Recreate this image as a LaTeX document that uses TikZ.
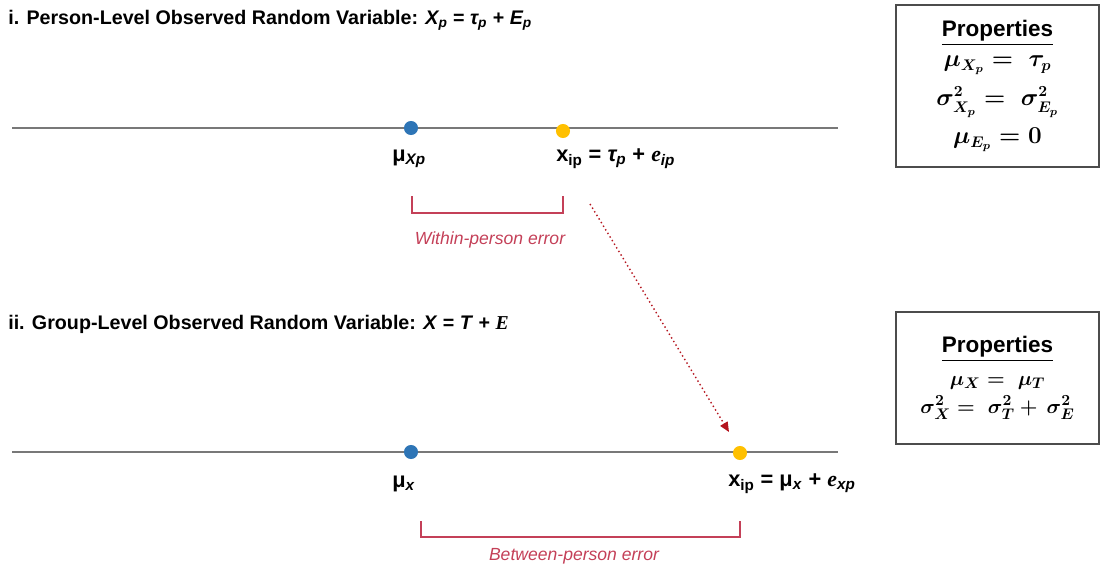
\documentclass[tikz,border=0pt]{standalone}
\usepackage{amsmath}
\usepackage{fontspec}
\setmainfont{Liberation Sans}
\newfontfamily\serifit{Liberation Serif}
\usetikzlibrary{arrows.meta}
\definecolor{dotblue}{RGB}{46,117,182}
\definecolor{dotgold}{RGB}{255,192,0}
\definecolor{errred}{RGB}{196,64,88}
\definecolor{arrred}{RGB}{180,20,30}
\definecolor{axisgray}{RGB}{120,120,120}
\begin{document}
\begin{tikzpicture}[x=0.025cm,y=-0.025cm]
	\tikzset{dot/.style={circle, inner sep=0pt, minimum size=10pt},
		axis/.style={axisgray, line width=1.2pt},
		title/.style={anchor=west, inner sep=0pt, font=\bfseries\fontsize{14}{16}\selectfont},
		lab/.style={anchor=west, inner sep=0pt, font=\bfseries\fontsize{15.5}{17}\selectfont},
		brack/.style={errred, line width=0.9pt},
		errtext/.style={errred, font=\itshape\fontsize{12.5}{14}\selectfont},
		link/.style={arrred, line width=1pt, dotted, -{Triangle[length=7pt,width=6pt]}},
		propbox/.style={draw=black!70, line width=1.2pt, minimum width=5.075cm, align=center, font=\fontsize{16}{24.5}\selectfont\boldmath}}
	\useasboundingbox (0,0) rectangle (1101,567);
	\node[title] (t1) at (8,20) {i. Person-Level Observed Random Variable: \textit{X\textsubscript{p}} = \textit{τ\textsubscript{p}} + \textit{E\textsubscript{p}}};
	\node[title] (t2) at (8,324) {ii. Group-Level Observed Random Variable: \textit{X} = \textit{T} + {\serifit\itshape E}};
	\coordinate (a1) at (12,128);
	\coordinate (b1) at (838,128);
	\coordinate (a2) at (12,452);
	\coordinate (b2) at (838,452);
	\draw[axis] (a1) -- (b1);
	\draw[axis] (a2) -- (b2);
	\node[dot, fill=dotblue] (m1) at (411,128) {};
	\node[dot, fill=dotgold] (x1) at (563,131) {};
	\node[dot, fill=dotblue] (m2) at (411,452) {};
	\node[dot, fill=dotgold] (x2) at (740,453) {};
	\node[lab] (lm1) at (392,159) {μ\textsubscript{\textit{Xp}}};
	\node[lab] (lx1) at (556,159) {x\textsubscript{ip} = \textit{τ\textsubscript{p}} + {\serifit\itshape e}\textsubscript{\textit{ip}}};
	\node[lab] (lm2) at (392,484) {μ\textsubscript{\textit{x}}};
	\node[lab] (lx2) at (728,484) {x\textsubscript{ip} = μ\textsubscript{\textit{x}} + {\serifit\itshape e}\textsubscript{\textit{xp}}};
	\coordinate (w1) at (412,196);
	\coordinate (w2) at (412,213);
	\coordinate (w3) at (563,213);
	\coordinate (w4) at (563,196);
	\draw[brack] (w1) -- (w2) -- (w3) -- (w4);
	\coordinate (v1) at (421,521);
	\coordinate (v2) at (421,537);
	\coordinate (v3) at (740,537);
	\coordinate (v4) at (740,521);
	\draw[brack] (v1) -- (v2) -- (v3) -- (v4);
	\node[errtext] (e1) at (490,240) {Within-person error};
	\node[errtext] (e2) at (574,556) {Between-person error};
	\coordinate (s) at (590,204);
	\coordinate (f) at (729,432);
	\draw[link] (s) -- (f);
	\node[propbox, minimum height=4.05cm] (p1) at (997.5,86) {\underline{\textbf{Properties}}\\[-3pt] $\mu_{X_p} =\; \tau_p$\\[3pt] $\sigma^2_{X_p} =\; \sigma^2_{E_p}$\\[3pt] $\mu_{E_p} = 0$};
	\node[propbox, minimum height=3.3cm, font=\fontsize{15}{23}\selectfont\boldmath] (p2) at (997.5,378) {{\fontsize{16}{24.5}\selectfont\underline{\textbf{Properties}}}\\ $\mu_X =\; \mu_T$\\[-3pt] $\sigma^2_X =\; \sigma^2_T +\, \sigma^2_E$};
\end{tikzpicture}
\end{document}
